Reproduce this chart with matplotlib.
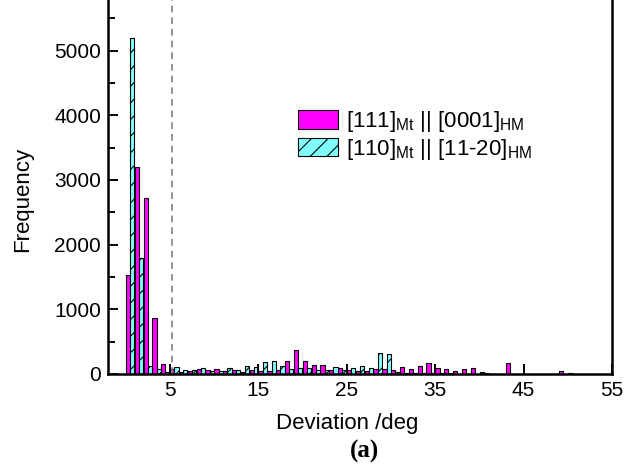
import numpy as np
import matplotlib
matplotlib.use("Agg")
import matplotlib.pyplot as plt

plt.rcParams['font.family'] = 'Liberation Sans'
plt.rcParams['mathtext.fontset'] = 'custom'
plt.rcParams['mathtext.rm'] = 'Liberation Sans'
plt.rcParams['hatch.linewidth'] = 0.8
plt.rcParams['hatch.color'] = '#303030'

# histogram bins, 1 deg wide
bin_centers = np.arange(0.5, 55, 1.0)

freq_111 = [1530, 3200, 2720, 870, 150, 75, 30, 50, 75, 55,
            70, 40, 55, 30, 55, 50, 45, 55, 205, 375,
            200, 140, 145, 65, 90, 60, 40, 40, 75, 75,
            60, 105, 75, 125, 175, 100, 75, 40, 75, 90,
            35, 0, 0, 165, 0, 0, 0, 0, 0, 45,
            15, 0, 0, 0, 0]

freq_110 = [5200, 1800, 120, 70, 30, 115, 65, 55, 85, 40,
            45, 100, 55, 125, 115, 180, 205, 120, 75, 90,
            90, 55, 65, 110, 65, 90, 130, 90, 330, 315,
            30, 20, 20, 15, 15, 10, 10, 5, 5, 5,
            10, 0, 0, 0, 0, 0, 0, 0, 0, 0,
            0, 0, 0, 0, 0]

xticks = [5, 15, 25, 35, 45, 55]
yticks = [0, 1000, 2000, 3000, 4000, 5000]
cutoff = 5.2

fig = plt.figure(figsize=(6.26, 4.70), dpi=100)
ax = fig.add_axes([0.1725, 0.2043, 0.8051, 0.8255])

w = 0.48
ax.bar(bin_centers - w / 2, freq_111, width=w, color='#ff00ff',
       edgecolor='black', linewidth=0.8,
       label=r'[111]$_{\mathrm{Mt}}$ || [0001]$_{\mathrm{HM}}$')
ax.bar(bin_centers + w / 2, freq_110, width=w, color='#80ffff',
       edgecolor='black', linewidth=0.8, hatch='//',
       label=r'[110]$_{\mathrm{Mt}}$ || [11-20]$_{\mathrm{HM}}$')

ax.axvline(cutoff, color='#808080', linestyle=(0, (4, 3)), linewidth=1.2)

ax.set_xlim(-2, 55)
ax.set_ylim(0, 6000)
ax.set_xticks(xticks)
ax.set_yticks(yticks)
ax.set_yticks(np.arange(500, 6000, 1000), minor=True)
ax.tick_params(axis='both', which='major', direction='in', length=7,
               width=1.4, labelsize=15, pad=5)
ax.tick_params(axis='y', which='minor', direction='in', length=5, width=1.4)

for s in ax.spines.values():
    s.set_linewidth(1.8)

ax.set_ylabel('Frequency', fontsize=16)
ax.yaxis.set_label_coords(-0.149, 0.451)
ax.set_xlabel('Deviation /deg', fontsize=16)
ax.xaxis.set_label_coords(0.474, -0.10)

ax.legend(loc='upper left', bbox_to_anchor=(0.377, 0.682), frameon=False,
          fontsize=16, handlelength=1.8, handleheight=0.9,
          handletextpad=0.35, labelspacing=0.1, borderpad=0,
          borderaxespad=0)

fig.text(0.583, 0.04, '(a)', fontsize=18, fontweight='bold',
         family='Liberation Serif', ha='center', va='center')

fig.savefig('out.png', dpi=100)
